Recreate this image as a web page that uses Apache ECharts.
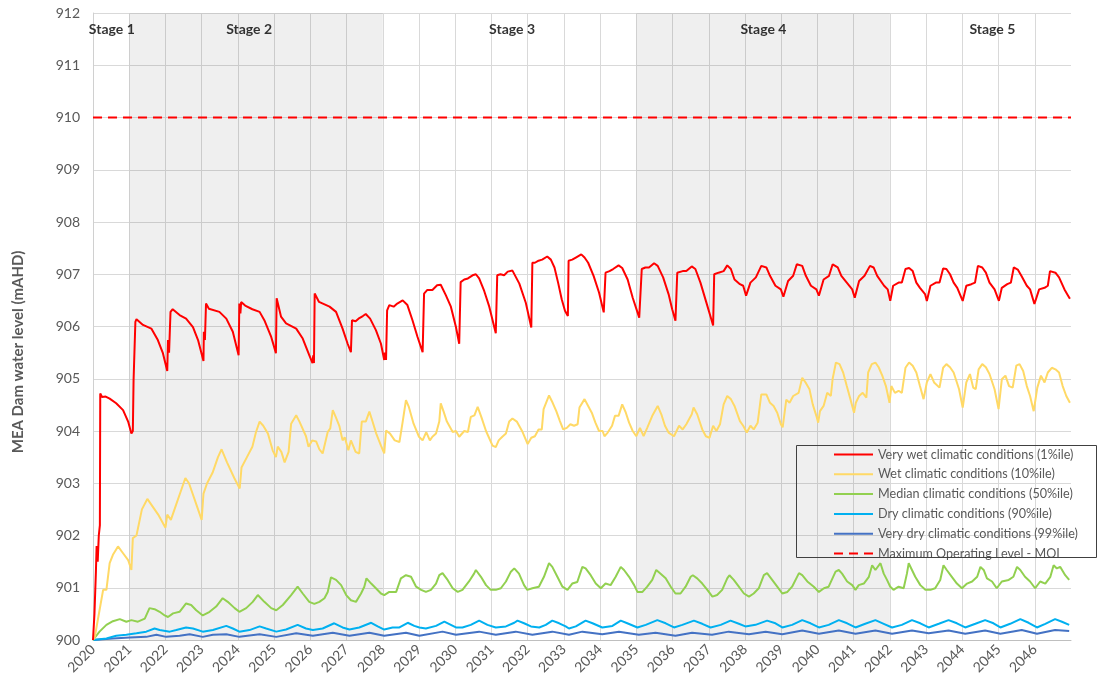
<!DOCTYPE html>
<html><head><meta charset="utf-8">
<script src="https://cdn.jsdelivr.net/npm/echarts@6/dist/echarts.min.js"></script>
<style>html,body{margin:0;padding:0;background:#fff}#c{width:1099px;height:684px}</style>
</head><body><div id="c"></div>
<script>
// ---------- data (x = time in years, y = water level in mAHD) ----------
const seriesNames = [
  'Very wet climatic conditions (1%ile)',
  'Wet climatic conditions (10%ile)',
  'Median climatic conditions (50%ile)',
  'Dry climatic conditions (90%ile)',
  'Very dry climatic conditions (99%ile)',
  'Maximum Operating Level - MOL'
];
const seriesColors = ['#ff0000', '#ffd966', '#92d050', '#00b0f0', '#4472c4', '#ff0000'];

const veryWet = [
[2020.00,900.0],[2020.04,900.5],[2020.08,901.3],[2020.10,901.8],[2020.13,901.5],[2020.16,902.0],[2020.19,902.2],[2020.20,904.72],
[2020.25,904.65],[2020.35,904.66],[2020.46,904.62],[2020.64,904.53],[2020.83,904.40],[2020.97,904.18],[2021.06,903.95],[2021.10,904.0],
[2021.12,904.97],[2021.17,906.09],[2021.20,906.14],[2021.38,906.03],[2021.61,905.96],[2021.79,905.74],[2021.93,905.49],[2022.05,905.15],
[2022.07,905.74],[2022.10,905.5],[2022.14,906.28],[2022.20,906.33],[2022.39,906.22],[2022.57,906.15],[2022.76,905.99],[2022.90,905.74],
[2023.05,905.34],[2023.06,905.9],[2023.09,905.74],[2023.12,906.44],[2023.20,906.34],[2023.49,906.28],[2023.68,906.15],[2023.86,905.9],
[2024.02,905.45],[2024.04,906.44],[2024.07,906.25],[2024.09,906.47],[2024.20,906.4],[2024.40,906.33],[2024.60,906.28],[2024.73,906.12],
[2024.92,905.8],[2025.05,905.49],[2025.07,906.54],[2025.19,906.19],[2025.33,906.06],[2025.61,905.96],[2025.79,905.77],[2025.97,905.45],
[2026.06,905.3],[2026.08,905.45],[2026.10,905.3],[2026.12,906.63],[2026.24,906.47],[2026.53,906.38],[2026.71,906.28],[2026.89,905.96],
[2027.03,905.67],[2027.12,905.51],[2027.15,906.12],[2027.25,906.10],[2027.33,906.15],[2027.45,906.2],[2027.53,906.24],[2027.65,906.15],
[2027.81,905.93],[2027.95,905.67],[2028.04,905.36],[2028.06,905.5],[2028.09,905.36],[2028.12,906.31],[2028.18,906.41],[2028.30,906.38],
[2028.40,906.44],[2028.55,906.5],[2028.68,906.41],[2028.82,906.12],[2028.96,905.8],[2029.10,905.51],[2029.14,906.63],[2029.23,906.7],
[2029.37,906.7],[2029.50,906.79],[2029.60,906.8],[2029.74,906.6],[2029.88,906.38],[2030.02,905.99],[2030.11,905.67],[2030.15,906.85],
[2030.25,906.9],[2030.35,906.92],[2030.48,906.98],[2030.57,907.0],[2030.66,906.92],[2030.80,906.68],[2030.94,906.38],[2031.12,905.87],
[2031.16,906.98],[2031.25,907.0],[2031.35,906.98],[2031.45,907.05],[2031.58,907.07],[2031.77,906.82],[2031.95,906.45],[2032.10,905.98],
[2032.13,907.22],[2032.20,907.22],[2032.30,907.26],[2032.40,907.28],[2032.54,907.34],[2032.64,907.28],[2032.74,907.13],[2032.84,906.84],
[2032.94,906.52],[2033.03,906.3],[2033.11,906.2],[2033.13,907.26],[2033.23,907.28],[2033.33,907.32],[2033.48,907.38],[2033.57,907.32],
[2033.67,907.22],[2033.82,906.97],[2033.97,906.65],[2034.10,906.27],[2034.15,907.03],[2034.26,907.06],[2034.36,907.1],[2034.51,907.17],
[2034.61,907.12],[2034.76,906.9],[2034.90,906.55],[2035.08,906.17],[2035.15,907.1],[2035.25,907.13],[2035.35,907.13],[2035.49,907.21],
[2035.59,907.16],[2035.74,906.94],[2035.89,906.62],[2035.99,906.33],[2036.08,906.11],[2036.13,907.03],[2036.28,907.06],[2036.38,907.06],
[2036.53,907.15],[2036.63,907.1],[2036.77,906.84],[2036.92,906.49],[2037.07,906.14],[2037.12,906.02],[2037.15,907.0],[2037.27,907.03],
[2037.41,907.06],[2037.51,907.17],[2037.61,907.1],[2037.71,906.9],[2037.86,906.81],[2037.95,906.78],[2038.03,906.59],[2038.15,906.84],
[2038.30,906.94],[2038.45,907.16],[2038.59,907.13],[2038.69,906.97],[2038.84,906.78],[2038.99,906.71],[2039.06,906.57],[2039.19,906.87],
[2039.33,906.97],[2039.43,907.19],[2039.58,907.16],[2039.68,906.97],[2039.82,906.78],[2039.97,906.71],[2040.04,906.59],[2040.17,906.9],
[2040.32,906.97],[2040.42,907.19],[2040.56,907.13],[2040.66,906.97],[2040.81,906.84],[2040.96,906.71],[2041.03,906.55],[2041.15,906.87],
[2041.30,906.97],[2041.45,907.16],[2041.55,907.13],[2041.65,906.97],[2041.84,906.78],[2041.94,906.71],[2042.01,906.49],[2042.09,906.78],
[2042.24,906.84],[2042.33,906.84],[2042.43,907.1],[2042.53,907.12],[2042.63,907.06],[2042.73,906.84],[2042.83,906.74],[2042.97,906.62],
[2043.02,906.49],[2043.12,906.78],[2043.27,906.84],[2043.37,906.84],[2043.47,907.11],[2043.56,907.1],[2043.66,907.0],[2043.76,906.84],
[2043.86,906.74],[2044.01,906.49],[2044.11,906.78],[2044.25,906.81],[2044.35,906.84],[2044.43,907.16],[2044.55,907.13],[2044.65,907.03],
[2044.75,906.84],[2044.89,906.71],[2045.01,906.49],[2045.09,906.74],[2045.24,906.81],[2045.34,906.84],[2045.42,907.13],[2045.53,907.09],
[2045.63,906.97],[2045.78,906.78],[2045.87,906.71],[2045.99,906.43],[2046.12,906.71],[2046.27,906.74],[2046.36,906.78],[2046.42,907.06],
[2046.57,907.03],[2046.67,906.94],[2046.82,906.71],[2046.92,906.59],[2046.97,906.53]
];

const wet = [
[2020.00,900.0],[2020.05,900.06],[2020.18,900.57],[2020.28,900.96],[2020.37,900.96],[2020.46,901.47],[2020.55,901.63],[2020.69,901.79],
[2020.83,901.66],[2020.97,901.53],[2021.06,901.34],[2021.10,901.95],[2021.20,902.0],[2021.35,902.5],[2021.50,902.7],[2021.60,902.6],
[2021.80,902.4],[2022.00,902.15],[2022.05,902.4],[2022.15,902.3],[2022.30,902.6],[2022.45,902.9],[2022.55,903.1],[2022.65,903.0],
[2022.85,902.6],[2023.00,902.3],[2023.05,902.8],[2023.15,903.0],[2023.30,903.2],[2023.45,903.5],[2023.55,903.65],[2023.70,903.4],
[2023.90,903.1],[2024.05,902.9],[2024.10,903.3],[2024.25,903.5],[2024.40,903.7],[2024.50,903.98],[2024.60,904.18],[2024.70,904.1],
[2024.83,903.95],[2024.96,903.63],[2025.05,903.5],[2025.10,903.7],[2025.20,903.6],[2025.29,903.4],[2025.40,903.6],[2025.47,904.14],
[2025.61,904.3],[2025.70,904.18],[2025.88,903.9],[2025.95,903.7],[2026.05,903.82],[2026.16,903.8],[2026.25,903.65],[2026.34,903.57],
[2026.48,903.98],[2026.55,904.05],[2026.62,904.4],[2026.70,904.27],[2026.80,904.1],[2026.89,903.82],[2026.95,903.88],[2027.05,903.63],
[2027.12,903.82],[2027.25,903.6],[2027.35,903.57],[2027.42,904.18],[2027.53,904.18],[2027.63,904.37],[2027.70,904.22],[2027.82,903.95],
[2027.95,903.72],[2028.04,903.57],[2028.09,904.01],[2028.20,903.95],[2028.33,903.82],[2028.46,903.79],[2028.55,904.18],[2028.64,904.59],
[2028.72,904.46],[2028.85,904.14],[2029.00,903.89],[2029.10,903.82],[2029.20,903.98],[2029.30,903.82],[2029.37,903.89],[2029.47,903.95],
[2029.56,904.18],[2029.60,904.53],[2029.68,904.37],[2029.77,904.18],[2029.93,903.98],[2030.02,904.0],[2030.11,903.89],[2030.25,904.0],
[2030.35,903.98],[2030.43,904.27],[2030.53,904.3],[2030.62,904.46],[2030.72,904.27],[2030.85,904.0],[2031.03,903.72],[2031.12,903.69],
[2031.20,903.82],[2031.30,903.89],[2031.40,903.95],[2031.49,904.18],[2031.58,904.24],[2031.70,904.18],[2031.86,903.98],[2032.00,903.75],
[2032.10,903.87],[2032.20,903.9],[2032.30,904.03],[2032.39,904.03],[2032.44,904.42],[2032.59,904.68],[2032.69,904.54],[2032.79,904.38],
[2032.89,904.19],[2032.98,904.03],[2033.08,904.06],[2033.18,904.13],[2033.28,904.1],[2033.38,904.13],[2033.43,904.45],[2033.57,904.61],
[2033.67,904.48],[2033.77,904.35],[2033.87,904.16],[2033.97,904.0],[2034.07,904.0],[2034.12,903.9],[2034.21,903.97],[2034.33,904.1],
[2034.41,904.29],[2034.51,904.29],[2034.61,904.51],[2034.71,904.35],[2034.80,904.16],[2034.90,904.0],[2035.00,903.9],[2035.10,904.06],
[2035.20,903.9],[2035.30,904.06],[2035.44,904.29],[2035.59,904.48],[2035.69,904.32],[2035.79,904.1],[2035.89,903.97],[2036.04,903.9],
[2036.18,904.1],[2036.28,904.03],[2036.38,904.13],[2036.53,904.32],[2036.58,904.45],[2036.68,904.32],[2036.82,904.03],[2036.92,903.9],
[2037.02,903.87],[2037.12,904.1],[2037.21,904.0],[2037.31,904.13],[2037.41,904.51],[2037.51,904.67],[2037.61,904.61],[2037.71,904.48],
[2037.86,904.19],[2037.95,904.1],[2038.05,903.97],[2038.15,904.1],[2038.24,904.03],[2038.35,904.16],[2038.45,904.7],[2038.59,904.7],
[2038.69,904.54],[2038.79,904.48],[2038.89,904.35],[2038.99,904.13],[2039.04,904.07],[2039.14,904.6],[2039.23,904.54],[2039.33,904.67],
[2039.48,904.73],[2039.58,905.02],[2039.68,904.92],[2039.78,904.8],[2039.87,904.51],[2039.97,904.29],[2040.02,904.16],[2040.07,904.38],
[2040.17,904.48],[2040.27,904.73],[2040.37,904.67],[2040.42,905.0],[2040.51,905.31],[2040.61,905.28],[2040.71,905.12],[2040.81,904.86],
[2040.91,904.61],[2041.01,904.35],[2041.06,904.54],[2041.15,904.67],[2041.25,904.73],[2041.35,904.64],[2041.40,905.12],[2041.50,905.28],
[2041.60,905.31],[2041.69,905.22],[2041.79,905.06],[2041.89,904.86],[2041.99,904.54],[2042.04,904.86],[2042.14,904.73],[2042.24,904.77],
[2042.33,904.73],[2042.43,905.21],[2042.53,905.31],[2042.63,905.25],[2042.73,905.12],[2042.83,904.86],[2042.93,904.61],[2043.02,904.93],
[2043.12,905.09],[2043.22,904.93],[2043.37,904.83],[2043.47,905.21],[2043.56,905.28],[2043.66,905.22],[2043.76,905.12],[2043.91,904.8],
[2044.01,904.45],[2044.11,904.93],[2044.21,905.09],[2044.30,904.83],[2044.37,904.8],[2044.45,905.18],[2044.55,905.28],[2044.65,905.22],
[2044.75,905.09],[2044.89,904.8],[2045.00,904.42],[2045.09,904.99],[2045.19,905.06],[2045.29,904.86],[2045.39,904.83],[2045.49,905.25],
[2045.58,905.28],[2045.68,905.15],[2045.78,904.86],[2045.87,904.67],[2045.97,904.38],[2046.07,904.83],[2046.17,905.06],[2046.27,904.93],
[2046.36,905.12],[2046.47,905.21],[2046.57,905.18],[2046.67,905.12],[2046.77,904.86],[2046.87,904.67],[2046.97,904.54]
];

const median = [
[2020.00,900.0],[2020.18,900.16],[2020.37,900.29],[2020.55,900.36],[2020.74,900.4],[2020.92,900.35],[2021.06,900.38],[2021.24,900.35],
[2021.43,900.41],[2021.56,900.61],[2021.70,900.59],[2021.84,900.54],[2021.98,900.47],[2022.07,900.44],[2022.21,900.51],[2022.39,900.54],
[2022.57,900.7],[2022.71,900.67],[2022.85,900.57],[2023.03,900.47],[2023.22,900.54],[2023.40,900.64],[2023.58,900.8],[2023.72,900.73],
[2023.91,900.61],[2024.04,900.54],[2024.23,900.61],[2024.41,900.73],[2024.55,900.86],[2024.73,900.73],[2024.92,900.61],[2025.06,900.57],
[2025.24,900.67],[2025.47,900.86],[2025.65,901.02],[2025.79,900.89],[2025.97,900.73],[2026.11,900.69],[2026.25,900.73],[2026.39,900.8],
[2026.48,900.92],[2026.57,901.2],[2026.71,901.15],[2026.85,901.05],[2026.99,900.86],[2027.12,900.76],[2027.26,900.73],[2027.40,900.89],
[2027.49,901.02],[2027.55,901.18],[2027.68,901.08],[2027.81,900.99],[2027.95,900.89],[2028.04,900.86],[2028.18,900.92],[2028.37,900.92],
[2028.50,901.18],[2028.64,901.24],[2028.78,901.21],[2028.92,901.02],[2029.06,900.96],[2029.19,900.92],[2029.33,900.96],[2029.47,901.08],
[2029.56,901.24],[2029.65,901.28],[2029.79,901.15],[2029.93,900.99],[2030.07,900.92],[2030.20,900.96],[2030.38,901.12],[2030.52,901.27],
[2030.57,901.34],[2030.71,901.21],[2030.85,901.05],[2030.98,900.96],[2031.12,900.96],[2031.26,900.99],[2031.40,901.12],[2031.53,901.3],
[2031.63,901.37],[2031.76,901.27],[2031.90,901.05],[2031.99,900.96],[2032.13,900.99],[2032.31,901.02],[2032.45,901.21],[2032.59,901.47],
[2032.68,901.4],[2032.82,901.21],[2032.96,901.02],[2033.10,900.96],[2033.23,901.08],[2033.37,901.11],[2033.51,901.4],[2033.60,901.37],
[2033.74,901.24],[2033.88,901.08],[2034.02,900.99],[2034.15,901.08],[2034.29,901.05],[2034.43,901.21],[2034.57,901.4],[2034.66,901.34],
[2034.80,901.21],[2034.94,901.05],[2035.03,900.92],[2035.17,900.92],[2035.30,901.02],[2035.44,901.15],[2035.55,901.34],[2035.67,901.27],
[2035.81,901.18],[2035.95,901.02],[2036.08,900.89],[2036.22,900.89],[2036.36,901.02],[2036.50,901.21],[2036.56,901.24],[2036.68,901.18],
[2036.82,901.08],[2036.96,900.96],[2037.10,900.83],[2037.23,900.86],[2037.37,900.96],[2037.51,901.18],[2037.57,901.24],[2037.69,901.15],
[2037.83,901.02],[2037.97,900.89],[2038.11,900.83],[2038.24,900.89],[2038.38,900.99],[2038.52,901.24],[2038.61,901.28],[2038.75,901.15],
[2038.89,901.02],[2039.03,900.89],[2039.17,900.92],[2039.30,901.02],[2039.49,901.28],[2039.58,901.24],[2039.72,901.12],[2039.90,901.02],
[2040.04,900.92],[2040.18,900.99],[2040.31,901.02],[2040.50,901.31],[2040.59,901.34],[2040.68,901.27],[2040.82,901.12],[2040.96,901.05],
[2041.05,900.96],[2041.14,901.05],[2041.28,901.08],[2041.42,901.21],[2041.51,901.43],[2041.60,901.34],[2041.74,901.47],[2041.83,901.27],
[2041.92,901.15],[2042.01,901.02],[2042.10,900.96],[2042.24,901.02],[2042.38,900.99],[2042.47,901.27],[2042.52,901.47],[2042.61,901.34],
[2042.70,901.21],[2042.84,901.05],[2042.98,900.96],[2043.12,900.96],[2043.25,900.99],[2043.39,901.15],[2043.48,901.43],[2043.57,901.34],
[2043.71,901.21],[2043.85,901.08],[2043.99,900.99],[2044.13,901.08],[2044.27,901.12],[2044.41,901.21],[2044.50,901.4],[2044.59,901.34],
[2044.68,901.18],[2044.82,901.12],[2044.95,900.99],[2045.09,901.12],[2045.28,901.15],[2045.41,901.21],[2045.51,901.4],[2045.60,901.34],
[2045.73,901.21],[2045.87,901.12],[2046.01,900.99],[2046.15,901.12],[2046.29,901.08],[2046.43,901.21],[2046.52,901.43],[2046.61,901.37],
[2046.70,901.4],[2046.84,901.24],[2046.95,901.15]
];

const dry = [
[2020.00,900.0],[2020.37,900.03],[2020.64,900.08],[2020.92,900.1],[2021.20,900.13],[2021.47,900.16],[2021.70,900.22],[2021.84,900.19],
[2022.12,900.16],[2022.30,900.19],[2022.57,900.24],[2022.76,900.22],[2023.03,900.16],[2023.31,900.19],[2023.68,900.27],[2023.86,900.22],
[2024.04,900.16],[2024.32,900.19],[2024.60,900.26],[2024.78,900.22],[2025.06,900.16],[2025.33,900.2],[2025.65,900.29],[2025.88,900.22],
[2026.07,900.19],[2026.34,900.22],[2026.66,900.32],[2026.89,900.24],[2027.08,900.2],[2027.35,900.24],[2027.68,900.33],[2027.86,900.26],
[2028.04,900.2],[2028.27,900.24],[2028.46,900.24],[2028.69,900.33],[2028.87,900.27],[2029.01,900.24],[2029.19,900.22],[2029.47,900.27],
[2029.70,900.35],[2029.88,900.29],[2030.02,900.24],[2030.20,900.24],[2030.43,900.29],[2030.66,900.37],[2030.89,900.29],[2031.12,900.24],
[2031.40,900.26],[2031.63,900.33],[2031.72,900.37],[2031.90,900.32],[2032.09,900.26],[2032.32,900.24],[2032.50,900.29],[2032.68,900.37],
[2032.87,900.32],[2033.05,900.26],[2033.14,900.22],[2033.33,900.26],[2033.60,900.37],[2033.79,900.32],[2034.06,900.24],[2034.34,900.27],
[2034.57,900.37],[2034.75,900.32],[2035.03,900.24],[2035.26,900.29],[2035.58,900.38],[2035.81,900.32],[2036.04,900.24],[2036.27,900.29],
[2036.59,900.37],[2036.82,900.31],[2037.05,900.24],[2037.33,900.29],[2037.60,900.37],[2037.83,900.31],[2038.01,900.26],[2038.29,900.29],
[2038.61,900.37],[2038.84,900.32],[2039.03,900.24],[2039.30,900.29],[2039.58,900.38],[2039.81,900.32],[2040.04,900.24],[2040.31,900.29],
[2040.59,900.38],[2040.82,900.32],[2041.05,900.24],[2041.32,900.31],[2041.60,900.38],[2041.83,900.31],[2042.06,900.24],[2042.33,900.29],
[2042.61,900.38],[2042.84,900.32],[2043.07,900.24],[2043.35,900.31],[2043.62,900.38],[2043.85,900.32],[2044.08,900.24],[2044.36,900.31],
[2044.63,900.38],[2044.86,900.32],[2045.05,900.24],[2045.32,900.31],[2045.60,900.4],[2045.83,900.33],[2046.06,900.24],[2046.29,900.31],
[2046.56,900.4],[2046.75,900.35],[2046.95,900.29]
];

const veryDry = [
[2020.00,900.0],[2020.55,900.03],[2021.01,900.05],[2021.47,900.06],[2021.75,900.1],[2022.02,900.06],[2022.39,900.08],[2022.67,900.11],
[2023.03,900.06],[2023.31,900.1],[2023.68,900.11],[2024.04,900.06],[2024.60,900.11],[2025.06,900.06],[2025.61,900.13],[2026.07,900.08],
[2026.62,900.14],[2027.08,900.08],[2027.63,900.14],[2028.04,900.08],[2028.64,900.14],[2029.01,900.08],[2029.65,900.16],[2030.02,900.1],
[2030.66,900.16],[2031.12,900.1],[2031.67,900.16],[2032.13,900.1],[2032.68,900.16],[2033.14,900.1],[2033.51,900.16],[2034.06,900.11],
[2034.52,900.16],[2035.07,900.1],[2035.53,900.14],[2036.08,900.08],[2036.54,900.14],[2037.09,900.1],[2037.55,900.16],[2038.11,900.11],
[2038.57,900.16],[2039.03,900.11],[2039.58,900.18],[2040.04,900.12],[2040.59,900.18],[2041.05,900.12],[2041.60,900.18],[2042.06,900.12],
[2042.61,900.18],[2043.07,900.13],[2043.62,900.18],[2044.08,900.12],[2044.63,900.18],[2045.05,900.12],[2045.64,900.19],[2046.06,900.12],
[2046.56,900.19],[2046.95,900.17]
];

const molLevel = 910;
const xStart = 2020, xEnd = 2047;
const stageNames = ['Stage 1', 'Stage 2', 'Stage 3', 'Stage 4', 'Stage 5'];
const stageLabelX = [2020.52, 2024.31, 2031.57, 2038.51, 2044.83];
const stageLabelY = 911.69;
const shadedStages = [[2021, 2028], [2035, 2042]];

// ---------- chart ----------
const FONT = 'Lato, "Noto Sans", "Liberation Sans", sans-serif';
const chart = echarts.init(document.getElementById('c'));
const yearCount = xEnd - xStart + 1;
const splitColors = Array.from({length: yearCount}, (_, i) => i === yearCount - 1 ? 'rgba(0,0,0,0)' : '#d9d9d9');

const lineSeries = [veryWet, wet, median, dry, veryDry].map((d, i) => ({
  name: seriesNames[i], type: 'line', data: d, showSymbol: false, symbol: 'none',
  lineStyle: {color: seriesColors[i], width: 2}, itemStyle: {color: seriesColors[i]},
  z: 10 - i, silent: true, animation: false
}));

chart.setOption({
  animation: false,
  textStyle: {fontFamily: FONT},
  grid: {left: 93, right: 28, top: 13, bottom: 44, containLabel: false},
  xAxis: {
    type: 'value', min: xStart, max: xEnd, interval: 1,
    axisLine: {show: true, onZero: false, lineStyle: {color: '#bfbfbf', width: 1}},
    axisTick: {show: false},
    axisLabel: {rotate: 45, color: '#595959', fontSize: 14, margin: 7, showMaxLabel: false,
      formatter: v => String(v)},
    splitLine: {show: true, lineStyle: {color: splitColors, width: 1}}
  },
  yAxis: {
    type: 'value', min: 900, max: 912, interval: 1,
    axisLine: {show: true, lineStyle: {color: '#d0d0d0', width: 1}},
    axisTick: {show: false},
    axisLabel: {color: '#595959', fontSize: 14, margin: 13},
    splitLine: {show: true, lineStyle: {color: '#d9d9d9', width: 1}}
  },
  legend: {
    data: seriesNames, orient: 'vertical', left: 833, top: 448,
    itemWidth: 39, itemHeight: 12, itemGap: 6.8, itemTextGap: 5, padding: 0,
    itemStyle: {color: 'rgba(0,0,0,0)', borderWidth: 0, opacity: 0},
    textStyle: {color: '#595959', fontSize: 12.6, fontFamily: FONT},
    selectedMode: false
  },
  graphic: [
    {type: 'rect', shape: {x: 796.5, y: 445.5, width: 300, height: 112},
     style: {fill: 'none', stroke: '#404040', lineWidth: 1}, z: 100, silent: true},
    {type: 'text', x: 18, y: 352, rotation: Math.PI / 2,
     style: {text: 'MEA Dam water level (mAHD)', fill: '#595959', font: 'bold 15px ' + FONT,
       align: 'center', verticalAlign: 'middle'}, silent: true}
  ],
  series: [
    {
      name: 'shade', type: 'line', data: [], z: 1, silent: true,
      markArea: {silent: true, itemStyle: {color: 'rgba(0,0,0,0.063)'},
        data: shadedStages.map(s => [{xAxis: s[0]}, {xAxis: s[1]}])}
    },
    ...lineSeries,
    {
      name: seriesNames[5], type: 'line', data: [[xStart, molLevel], [xEnd, molLevel]],
      showSymbol: false, symbol: 'none', z: 11, silent: true,
      lineStyle: {color: seriesColors[5], width: 2.2, type: [9, 6]}, itemStyle: {color: seriesColors[5]}
    },
    {
      name: 'stages', type: 'scatter', symbolSize: 0, z: 20, silent: true,
      data: stageNames.map((n, i) => ({name: n, value: [stageLabelX[i], stageLabelY]})),
      label: {show: true, position: 'inside', formatter: p => p.name,
        color: '#000', fontWeight: 'bold', fontSize: 14, fontFamily: FONT}
    }
  ]
});
</script>
</body></html>
